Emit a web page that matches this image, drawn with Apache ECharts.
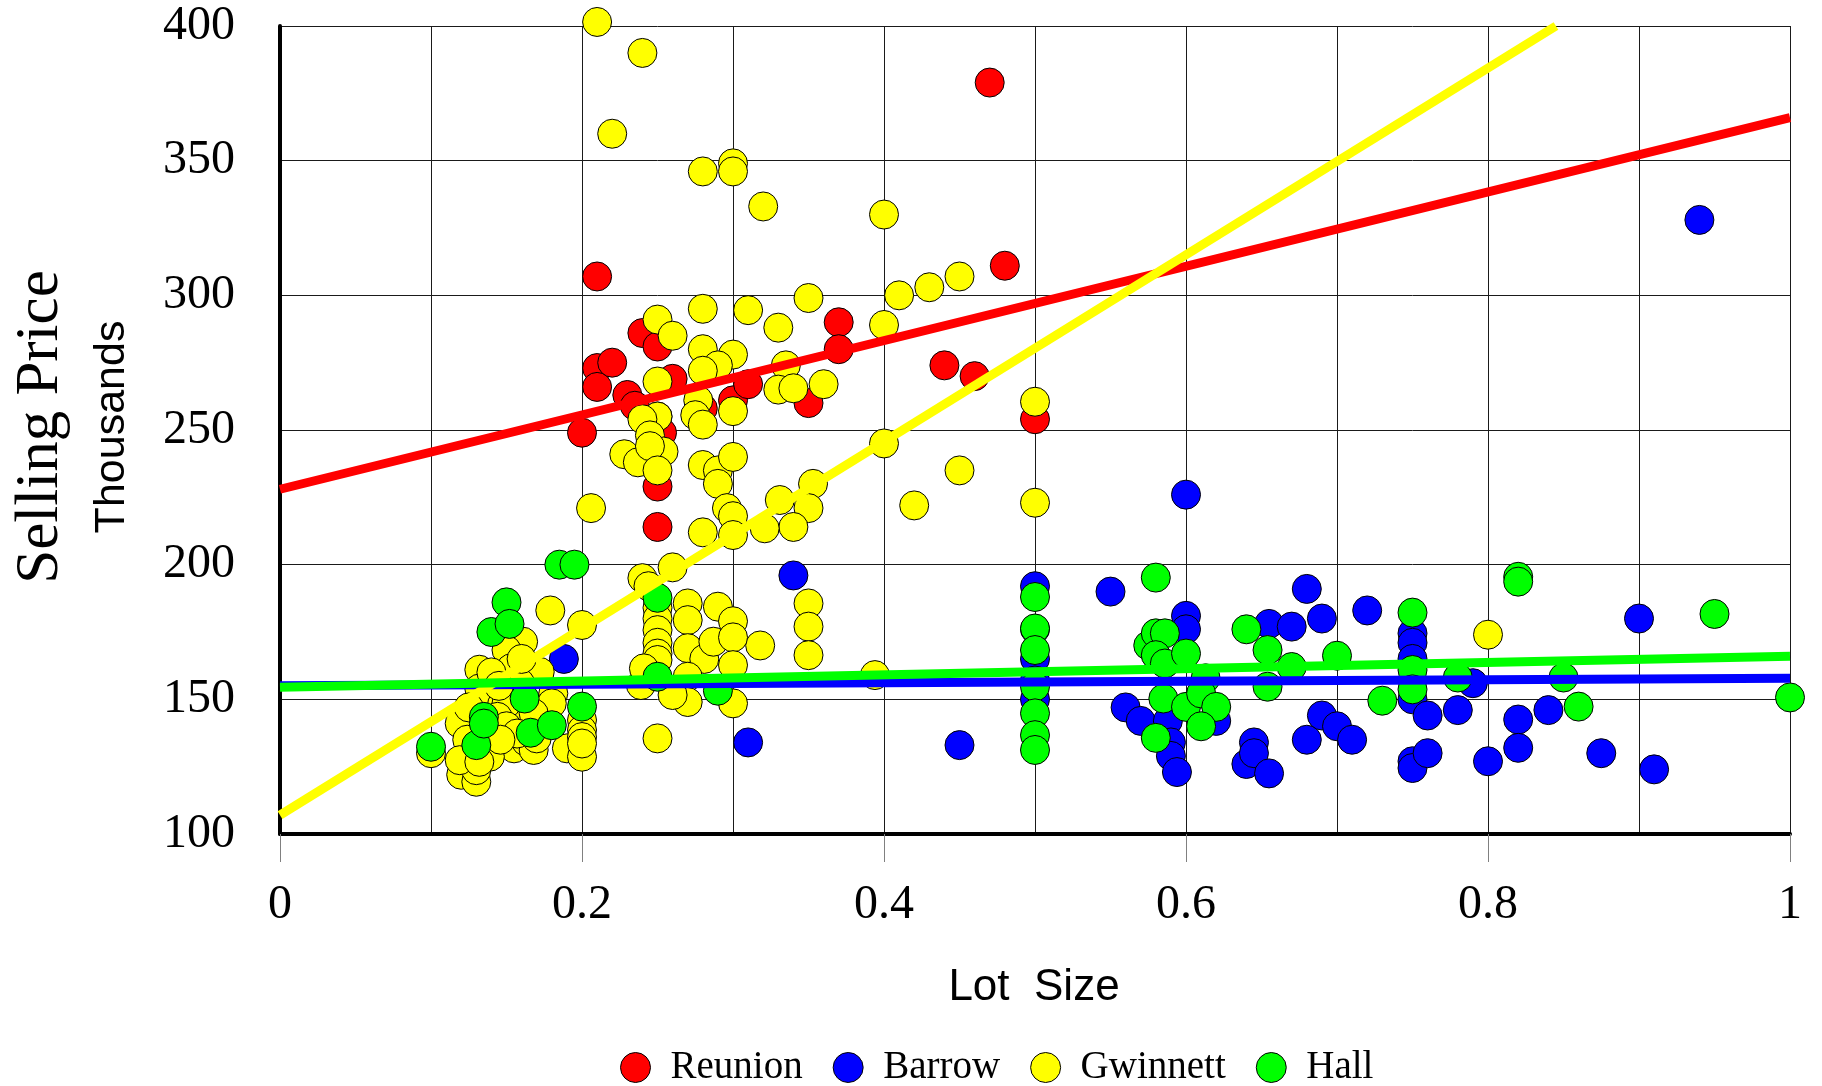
<!DOCTYPE html>
<html><head><meta charset="utf-8">
<script src="https://cdn.jsdelivr.net/npm/echarts@6/dist/echarts.min.js"></script>
<style>html,body{margin:0;padding:0;background:#fff}#c{width:1822px;height:1086px}</style>
</head><body><div id="c"></div>
<script>
// Scatter data: [lot size, selling price (thousands)]
const reunion = [[0.20,249],[0.21,307],[0.21,273],[0.21,266],[0.22,275],[0.23,263],[0.235,259],[0.24,286],[0.25,281],[0.25,255],[0.253,249],[0.25,229],[0.25,214],[0.26,269],[0.28,258],[0.30,261],[0.31,267],[0.35,260],[0.37,290],[0.37,280],[0.44,274],[0.46,270],[0.47,379],[0.48,311],[0.50,254]];
const barrow = [[0.188,165],[0.31,134],[0.34,196],[0.45,133],[0.5,192],[0.5,176],[0.5,165],[0.5,157],[0.5,150],[0.55,190],[0.56,147],[0.57,142],[0.588,142],[0.59,134],[0.59,129],[0.594,123],[0.60,226],[0.60,181],[0.60,176],[0.62,142],[0.64,126],[0.645,134],[0.645,130],[0.655,122.5],[0.655,178],[0.67,177],[0.68,191],[0.68,135],[0.69,144],[0.69,180],[0.70,140],[0.71,135],[0.72,183],[0.75,174.5],[0.75,171],[0.75,165],[0.75,150],[0.75,127],[0.75,124.5],[0.76,144],[0.76,130],[0.78,146],[0.79,156],[0.80,127],[0.82,142.5],[0.82,132],[0.84,146],[0.875,130],[0.90,180],[0.91,124],[0.94,328]];
const gwinnett = [[0.21,401.5],[0.24,390],[0.22,360],[0.28,346],[0.30,349],[0.30,346],[0.32,333],[0.40,330],[0.28,295],[0.31,294.5],[0.25,291],[0.26,285],[0.33,288],[0.35,299],[0.41,300],[0.43,303],[0.45,307],[0.40,289],[0.28,280],[0.30,278],[0.29,274],[0.28,272],[0.335,274],[0.25,268],[0.33,265],[0.34,265.5],[0.36,267],[0.277,261],[0.275,255.5],[0.30,257],[0.28,252],[0.25,255],[0.24,254],[0.245,248],[0.50,260.5],
[0.254,242],[0.228,241],[0.237,238],[0.245,244],[0.25,235],[0.28,237],[0.29,235],[0.29,230],[0.30,240],[0.40,245],[0.353,230],[0.331,224],[0.35,221],[0.34,214],[0.321,213.5],[0.296,221],[0.30,218],[0.28,212],[0.30,211],[0.206,221],[0.42,222],[0.45,235],[0.50,223],[0.26,199],
[0.24,195],[0.244,192],[0.27,185.6],[0.29,184.4],[0.30,179],[0.318,170],[0.27,179.4],[0.27,169],[0.281,165],[0.287,171.4],[0.30,173],[0.30,162.7],[0.25,184],[0.25,180],[0.25,175.7],[0.25,171],[0.25,167],[0.25,164.6],[0.27,158.4],[0.27,149],[0.26,151.6],[0.30,148.5],[0.239,155.3],[0.241,161.5],[0.25,135.5],[0.35,185.6],[0.35,177],[0.35,166.4],[0.394,159],[0.80,174],
[0.179,183],[0.20,177.6],[0.161,171.4],[0.15,168.3],[0.132,161],[0.153,161.5],[0.172,160.2],[0.159,156],[0.132,154],[0.181,152.2],[0.18,148.5],[0.139,152.2],[0.147,148],[0.155,146],[0.168,144.8],[0.119,141],[0.124,135],[0.144,137.3],[0.155,131.8],[0.163,134.3],[0.168,131.2],[0.19,131.8],[0.20,128.7],[0.20,142.3],[0.20,138.6],[0.20,136],[0.20,133.6],[0.10,130],[0.12,122],[0.13,119.4],[0.13,123.7],[0.119,127.4],[0.139,128.7],[0.132,126.8],
[0.15,148.5],[0.144,143.5],[0.15,140],[0.157,137.3],[0.17,135.5],[0.146,135],[0.125,147],[0.14,160],[0.16,165],[0.145,155]];
const hall = [[0.10,132.4],[0.13,133],[0.135,143.5],[0.135,141],[0.14,175],[0.15,186],[0.152,178],[0.162,150.3],[0.166,137.6],[0.18,140.4],[0.185,200],[0.195,200],[0.20,147.3],[0.25,187.7],[0.25,158.4],[0.29,153.2],[0.5,188],[0.5,176.3],[0.5,168.3],[0.5,154.7],[0.5,144.8],[0.5,136.7],[0.5,131.2],[0.575,170],[0.58,195.2],[0.58,174.5],[0.586,174.5],[0.58,166.4],[0.586,163.3],[0.60,167],[0.613,157.8],[0.585,150.3],[0.60,147.2],[0.61,152.2],[0.62,147.2],[0.61,140],[0.58,135.7],[0.64,176],[0.654,168.3],[0.654,154.7],[0.67,162],[0.70,166.2],[0.73,149.5],[0.75,182.2],[0.75,160.9],[0.75,153.7],[0.78,158.1],[0.82,195.5],[0.82,193.7],[0.85,158.1],[0.86,147.3],[0.95,181.7],[1.0,150.7]];
// Trend lines: [x, y] end points
const reunionTrend = [[0,228],[1,366]];
const barrowTrend = [[0,155],[1,157.8]];
const gwinnettTrend = [[0,107],[0.845,400]];
const hallTrend = [[0,154.5],[1,166]];
const seriesNames = ['Reunion','Barrow','Gwinnett','Hall'];
const seriesColors = ['#ff0000','#0000ff','#ffff00','#00ff00'];

const SERIF = "'Liberation Serif','Times New Roman',serif";
const SANS = "'Liberation Sans',Arial,sans-serif";
const chart = echarts.init(document.getElementById('c'), null, {renderer:'canvas'});
function sc(i, data){
  return {name:seriesNames[i], type:'scatter', data, symbol:'circle', symbolSize:29, clip:false, silent:true,
    itemStyle:{color:seriesColors[i], borderColor:'#000', borderWidth:1, opacity:1}};
}
function tl(i, data){
  return {name:seriesNames[i]+' trend', type:'line', data, symbol:'none', showSymbol:false, silent:true,
    lineStyle:{color:seriesColors[i], width:9, cap:'butt'}, itemStyle:{color:seriesColors[i]}};
}
const gridColor = '#1a1a1a';
chart.setOption({
  animation:false,
  backgroundColor:'#fff',
  grid:{left:280, right:32, top:26, bottom:252, containLabel:false},
  xAxis:{type:'value', min:0, max:1, interval:0.2,
    axisLine:{show:true, onZero:false, lineStyle:{color:'#000', width:4}},
    axisTick:{show:true, length:28, lineStyle:{color:'#808080', width:1}},
    axisLabel:{margin:47, fontFamily:SERIF, fontSize:48, color:'#000'},
    splitLine:{show:true, lineStyle:{color:gridColor, width:1}},
    minorTick:{show:false, splitNumber:2},
    minorSplitLine:{show:true, lineStyle:{color:gridColor, width:1}}},
  yAxis:{type:'value', min:100, max:400, interval:50,
    axisLine:{show:true, onZero:false, lineStyle:{color:'#000', width:4}},
    axisTick:{show:false},
    axisLabel:{margin:45, fontFamily:SERIF, fontSize:48, color:'#000'},
    splitLine:{show:true, lineStyle:{color:gridColor, width:1}}},
  legend:{data:seriesNames, left:615, top:1043, orient:'horizontal', icon:'circle',
    itemWidth:30, itemHeight:30, itemGap:30,
    itemStyle:{borderColor:'#000', borderWidth:1},
    textStyle:{fontFamily:SERIF, fontSize:39, color:'#000', padding:[0,0,0,15]}},
  graphic:[
    {type:'text', x:41, y:427, rotation:Math.PI/2, silent:true,
     style:{text:'Selling Price', font:'61px '+SERIF, fill:'#000', align:'center', verticalAlign:'middle', textAlign:'center', textVerticalAlign:'middle'}},
    {type:'text', x:112, y:427, rotation:Math.PI/2, silent:true,
     style:{text:'Thousands', font:'43px '+SANS, fill:'#000', align:'center', verticalAlign:'middle', textAlign:'center', textVerticalAlign:'middle'}},
    {type:'text', x:1034, y:988, silent:true,
     style:{text:'Lot  Size', font:'44px '+SANS, fill:'#000', align:'center', verticalAlign:'middle', textAlign:'center', textVerticalAlign:'middle'}}
  ],
  series:[
    sc(0, reunion), tl(0, reunionTrend),
    sc(1, barrow), tl(1, barrowTrend),
    sc(2, gwinnett), tl(2, gwinnettTrend),
    sc(3, hall), tl(3, hallTrend)
  ]
});
</script></body></html>
